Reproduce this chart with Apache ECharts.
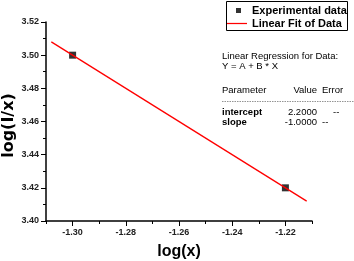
<!DOCTYPE html>
<html><head><meta charset="utf-8">
<script src="https://cdn.jsdelivr.net/npm/echarts@6/dist/echarts.min.js"></script>
<style>html,body{margin:0;padding:0;background:#fff}#c{width:354px;height:261px}</style>
</head><body><div id="c"></div>
<script>
const expX = [-1.30, -1.22];
const expY = [3.50, 3.42];
const fitX = [-1.308, -1.212];
const interceptA = 2.2;
const slopeB = -1.0;
const fitY = fitX.map(x => +(interceptA + slopeB * x).toFixed(4));
const xLabelValues = [-1.30, -1.28, -1.26, -1.24, -1.22];
const tableRows = [["intercept", "2.2000", "--"], ["slope", "-1.0000", "--"]];

const F = '"Liberation Sans", Arial, sans-serif';
const chart = echarts.init(document.getElementById('c'), null, {renderer: 'canvas'});
chart.setOption({
  animation: false,
  backgroundColor: '#fff',
  grid: {left: 46, top: 22, right: 42, bottom: 40, containLabel: false, outerBoundsMode: 'none'},
  xAxis: [{
    type: 'value', min: -1.31, max: -1.21, interval: 0.01, position: 'bottom',
    name: 'log(x)', nameLocation: 'middle', nameGap: 23, nameMoveOverlap: false,
    nameTextStyle: {fontFamily: F, fontWeight: 'bold', fontSize: 16, color: '#000'},
    axisLine: {lineStyle: {color: '#000', width: 1.5}},
    axisTick: {lineStyle: {color: '#000'}, length: 3},
    splitLine: {show: false},
    axisLabel: {fontFamily: F, fontWeight: 'bold', fontSize: 9, color: '#222', margin: 7,
      formatter: v => { const k = Math.round(v * 100); return (k % 2 === 0 && k !== -131 && k !== -121) ? (k/100).toFixed(2) : ''; }}
  }, {
    type: 'value', min: -1.31, max: -1.21, position: 'bottom', offset: 0,
    axisLine: {show: false},
    axisTick: {show: true, customValues: xLabelValues, length: 5, lineStyle: {color: '#000'}},
    axisLabel: {show: false},
    splitLine: {show: false}
  }],
  yAxis: {
    type: 'value', min: 3.40, max: 3.52, interval: 0.02,
    name: 'log(I/x)', nameLocation: 'middle', nameGap: 29.5, nameMoveOverlap: false,
    nameTextStyle: {fontFamily: '"DejaVu Sans", sans-serif', fontWeight: 'bold', fontSize: 16, color: '#000', padding: [0, 8, 0, 0]},
    axisLine: {show: true, lineStyle: {color: '#000', width: 1.5}},
    axisTick: {show: true, lineStyle: {color: '#000'}, length: 5},
    minorTick: {show: true, splitNumber: 2, length: 3, lineStyle: {color: '#000'}},
    splitLine: {show: false},
    axisLabel: {fontFamily: F, fontWeight: 'bold', fontSize: 9, color: '#222', margin: 7,
      formatter: v => v.toFixed(2)}
  },
  legend: [
    {data: [{name: 'Experimental data', icon: 'rect'}], left: 236, top: 5, itemWidth: 5, itemHeight: 5, itemGap: 0,
     textStyle: {fontFamily: F, fontWeight: 'bold', fontSize: 11, color: '#000', padding: [0, 0, 0, 6]}, padding: 0},
    {data: [{name: 'Linear Fit of Data', icon: 'path://M0,0h24v1.5h-24z'}], left: 227, top: 18, itemWidth: 20, itemHeight: 2,
     textStyle: {fontFamily: F, fontWeight: 'bold', fontSize: 11, color: '#000'}, padding: 0}
  ],
  series: [
    {name: 'Experimental data', type: 'scatter', symbol: 'rect', symbolSize: 7,
     itemStyle: {color: '#000'}, data: expX.map((x, i) => [x, expY[i]]), z: 3},
    {name: 'Linear Fit of Data', type: 'line', showSymbol: false, symbol: 'none',
     lineStyle: {color: '#ff0000', width: 1.3}, itemStyle: {color: '#ff0000'},
     data: fitX.map((x, i) => [x, fitY[i]]), z: 4}
  ],
  graphic: [
    {type: 'rect', shape: {x: 226.5, y: 1.5, width: 121, height: 29}, style: {fill: 'none', stroke: '#000', lineWidth: 1}},
    {type: 'text', x: 222, y: 56, style: {text: 'Linear Regression for Data:', font: '9.5px ' + F, fill: '#000', verticalAlign: 'middle'}},
    {type: 'text', x: 222, y: 66, style: {text: 'Y = A + B * X', font: '9.5px ' + F, fill: '#000', verticalAlign: 'middle'}},
    {type: 'text', x: 222, y: 90, style: {text: 'Parameter', font: '9.5px ' + F, fill: '#000', verticalAlign: 'middle'}},
    {type: 'text', x: 317, y: 90, style: {text: 'Value', font: '9.5px ' + F, fill: '#000', align: 'right', verticalAlign: 'middle'}},
    {type: 'text', x: 322, y: 90, style: {text: 'Error', font: '9.5px ' + F, fill: '#000', verticalAlign: 'middle'}},
    {type: 'line', shape: {x1: 222, y1: 101.5, x2: 354, y2: 101.5}, style: {stroke: '#666', lineWidth: 0.7, lineDash: [1.5, 1]}},
    ...tableRows.flatMap((r, i) => [
      {type: 'text', x: 222, y: 112 + i * 10.5, style: {text: r[0], font: 'bold 9.5px ' + F, fill: '#000', verticalAlign: 'middle'}},
      {type: 'text', x: 317, y: 112 + i * 10.5, style: {text: r[1], font: '9.5px ' + F, fill: '#000', align: 'right', verticalAlign: 'middle'}},
      {type: 'text', x: i === 0 ? 333 : 322, y: 112 + i * 10.5, style: {text: r[2], font: '9.5px ' + F, fill: '#000', verticalAlign: 'middle'}}
    ])
  ]
});
</script></body></html>
